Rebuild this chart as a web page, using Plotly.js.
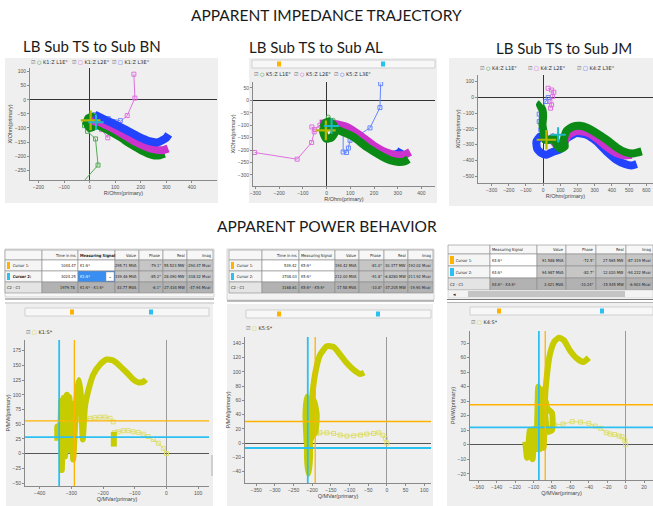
<!DOCTYPE html>
<html><head><meta charset="utf-8">
<script src="https://cdn.plot.ly/plotly-3.0.1.min.js"></script>
<style>html,body{margin:0;padding:0;background:#fff}#chart{width:653px;height:506px}</style>
</head><body><div id="chart"></div>
<script>
// ---------- Apparent impedance trajectories (R, X in ohm primary) ----------
// LB Sub TS -> Sub BN, relay K1
const bnL1R = [-15,-5,10,25,15,0,-10,5,27,55,87,120,153,180,207,230,253,275,293];
const bnL1X = [-90,-65,-60,-75,-95,-100,-85,-75,-88,-100,-115,-133,-153,-168,-182,-192,-198,-197,-192];
const bnL2R = [5,20,27,55,87,120,153,180,207,230,253,287,307];
const bnL2X = [-70,-78,-76,-86,-100,-117,-135,-150,-162,-170,-176,-179,-173];
const bnL3R = [20,47,87,140,193,233,267,300,309];
const bnL3X = [-53,-65,-82,-106,-132,-147,-151,-135,-123];
const bnL1tR = [5,-20,-8,23,33,-33];
const bnL1tX = [-90,-92,-112,-139,-232,-300];
const bnL2tR = [30,47,71,73,100,147,177,173];
const bnL2tX = [-85,-106,-135,-106,-94,-56,6,91];
const bnL3tR = [15,20,40,73,120];
const bnL3tX = [-60,-53,-65,-67,-74];

// LB Sub TS -> Sub AL, relay K5
const alL1R = [-15,-5,10,30,35,20,0,-10,-15,5,25,42,113,169,225,268,303,331,345];
const alL1X = [-110,-90,-85,-100,-130,-150,-155,-140,-120,-105,-110,-117,-147,-188,-221,-241,-248,-245,-237];
const alL2R = [-28,0,28,85,141,197,253,296,331,352];
const alL2X = [-94,-92,-94,-107,-141,-181,-210,-221,-218,-208];
const alL3R = [28,85,141,197,253,289,310,317];
const alL3X = [-100,-117,-154,-194,-218,-218,-208,-198];
const alL1tR = [7,28,20];
const alL1tX = [-67,-80,-95];
const alL2tR = [-28,-49,-62,-52,-63,-124,-303];
const alL2tX = [-100,-117,-107,-127,-170,-237,-210];
const alL3tR = [35,70,70,84,92,99,183,225,228];
const alL3tX = [-100,-131,-208,-210,-192,-161,-111,-29,67];

// LB Sub TS -> Sub JM, relay K4
const jmL1R = [-10,-19,-4,0,-4,4,10,39,68,78,101,126,120,136,175,214,262,311,369,427,476,524,573];
const jmL1X = [-38,-48,-80,-122,-175,-227,-269,-269,-259,-301,-326,-312,-269,-213,-185,-181,-196,-227,-269,-318,-347,-356,-343];
const jmL2R = [39,68,97,120,146,194,252,311,369,427,476,515];
const jmL2X = [-238,-290,-312,-290,-238,-213,-221,-259,-312,-354,-368,-364];
const jmL3R = [-10,-19,-39,-35,-10,19,58,97,136,194,252,311,369,427,476,515,544];
const jmL3X = [-248,-250,-280,-326,-354,-364,-345,-330,-262,-227,-238,-280,-343,-396,-423,-432,-423];
const jmL2tR = [29,49,62,54,39,49,43];
const jmL2tX = [57,46,32,4,-27,-48,-69];
const jmL3tR = [29,16,-10,-23,-23,-14,-10];
const jmL3tX = [-2,-27,-69,-107,-154,-206,-248];

// cursor crosses on the impedance plots [R, X]
const bnCur = {r:[4,25], x:[-73,-80]};
const alCur = {r:[-3,21], x:[-121,-103]};
const jmCur = {r:[19,87], x:[-269,-238]};

// ---------- Apparent power behaviour (Q in Mvar, P in MW) ----------
const bnThinQ = [0,-10,-26,-42,-58,-73,-89,-105,-121,-136,-152,-163];
const bnThinP = [0,9,17.6,24,29,33,36,37,39,39,37,36];
const bnUpQ = [-168,-178,-194,-210,-226,-241,-257,-273];
const bnUpP = [54,60,62,62,61,60,58,57];
const bnThickQ = [-344,-344,-336,-332,-330,-324,-320,-314,-310,-306,-302,-298,-294,-288,-282,-276,-270,-264,-257,-246,-231,-210,-189,-168,-147,-126,-105,-89,-73,-65,null,-166,-166];
const bnThickP = [22,46,30,90,-28,95,-5,100,10,96,5,85,-10,50,105,125,100,24,80,108,134,151,160,158,149,138,126,121,122,126,null,12,37];

const alThinQ = [0,-4,-11,-22,-36,-54,-71,-89,-107,-125,-143,-161,-179,-188];
const alThinP = [0,6.6,11,14.5,13.6,12.7,11.3,10.3,9.9,11.3,13.6,14.5,14.5,13.6];
const alThickQ = [-215,-218,-214,-208,-206,-210,-214,-212,-205,-196,-188,-192,-200,-205,-204,-201,-192,-179,-161,-143,-125,-107,-89,-71,-61];
const alThickP = [0,40,65,40,-20,-43,-20,30,58,60,40,15,10,4,28,60,98,124,136,135,124,112,103,97,99];

const jmThinQ = [0,-1,-4,-7,-12,-17,-21,-27,-33,-40,-49,-58,-68,-77,-82];
const jmThinP = [0,3.2,5.5,6,7,7.4,8.3,11.3,12.9,14.7,15.6,15.9,14.3,13.6,14.3];
const jmThickQ = [-109,-107,-104,-101,-99,-97,-95,-93,-91,-89,-87,-85,-80,-80,-85,-87.7,-86,-82,-77.5,-72.5,-67,-60.5,-53,-46,-40];
const jmThickP = [2,-9,10,-10,11,-3,40,-3,38,-2,30,25,22,10,9,26,44.6,63,71,73.8,72,65,59.5,57,60];

// cursor readouts [cursor 1, cursor 2]
const bnCurReal = [55.523, 28.090], bnCurImag = [-290.37, -338.32];
const alCurReal = [30.377, -6.828], alCurImag = [-192.02, -211.92];
const jmCurReal = [27.565, 12.020], jmCurImag = [-87.319, -94.222];

const bnTimes = ['1044.47', '3024.25', '1979.78'];
const bnSignals = ['K1:S*', 'K1:S*', 'K1:S* - K1:S*'];
const bnValues = ['295.71 MVA', '339.46 MVA', '43.77 MVA'];
const bnPhases = ['-79.1°', '-85.2°', '-6.1°'];
const bnReals = ['55.523 MW', '28.090 MW', '-27.434 MW'];
const bnImags = ['-290.37 Mvar', '-338.32 Mvar', '-47.94 Mvar'];

const alTimes = ['539.42', '3708.03', '3168.61'];
const alSignals = ['K5:S*', 'K5:S*', 'K5:S* - K5:S*'];
const alValues = ['194.42 MVA', '212.00 MVA', '17.58 MVA'];
const alPhases = ['-81.0°', '-91.8°', '-10.8°'];
const alReals = ['30.377 MW', '-6.8280 MW', '-37.205 MW'];
const alImags = ['-192.02 Mvar', '-211.92 Mvar', '-19.90 Mvar'];

const jmSignals = ['K4:S*', 'K4:S*', 'K4:S* - K4:S*'];
const jmValues = ['91.588 MVA', '94.987 MVA', '3.421 MVA'];
const jmPhases = ['-72.5°', '-82.7°', '-10.24°'];
const jmReals = ['27.565 MW', '12.020 MW', '-15.545 MW'];
const jmImags = ['-87.319 Mvar', '-94.222 Mvar', '-6.903 Mvar'];

// ---------- helpers ----------
const W = 653, H = 506;
const fx = p => p / W;
const fy = p => 1 - p / H;
const FONT = 'Liberation Sans, Arial, sans-serif';
const NARROW = 'Liberation Sans Narrow, DejaVu Sans Condensed, Liberation Sans, sans-serif';
const GREEN = '#0b8a16', MAG = '#cc33cc', BLUE = '#2244ff';
const YEL = '#c6cc00', YEL_T = '#dede70';
const ORANGE = '#ffb300', CYAN = '#2cc0f2';

const traces = [];
const shapes = [];
const annotations = [];

function thick(xs, ys, color, ax, w) {
  traces.push({type:'scatter', mode:'lines', x:xs, y:ys, xaxis:'x'+ax, yaxis:'y'+ax,
    line:{color:color, width:w, shape:'spline', smoothing:0.5}, connectgaps:false, hoverinfo:'skip'});
}
function thin(xs, ys, color, ax, sym) {
  traces.push({type:'scatter', mode:'lines+markers', x:xs, y:ys, xaxis:'x'+ax, yaxis:'y'+ax,
    line:{color:color, width:1},
    marker:{symbol:sym, size:4, color:color, line:{width:1, color:color}}, hoverinfo:'skip'});
}
function crosses(c, ax) {
  traces.push({type:'scatter', mode:'markers', x:[c.r[0]], y:[c.x[0]], xaxis:'x'+ax, yaxis:'y'+ax,
    marker:{symbol:'cross-thin', size:14, line:{width:2.2, color:'#b5b800'}}, hoverinfo:'skip'});
  traces.push({type:'scatter', mode:'markers', x:[c.r[1]], y:[c.x[1]], xaxis:'x'+ax, yaxis:'y'+ax,
    marker:{symbol:'cross-thin', size:11, line:{width:2, color:'#20b8c8'}}, hoverinfo:'skip'});
}
function rectPx(x0, y0, x1, y1, fill, line, lw) {
  shapes.push({type:'rect', xref:'paper', yref:'paper', x0:fx(x0), x1:fx(x1), y0:fy(y1), y1:fy(y0),
    fillcolor:fill, line:{color:line || fill, width:lw === undefined ? 0 : lw}, layer:'below'});
}
function linePx(x0, y0, x1, y1, color, w) {
  shapes.push({type:'line', xref:'paper', yref:'paper', x0:fx(x0), x1:fx(x1), y0:fy(y0), y1:fy(y1),
    line:{color:color, width:w}, layer:'below'});
}
function text(x, y, t, size, opts) {
  annotations.push(Object.assign({xref:'paper', yref:'paper', x:fx(x), y:fy(y), text:t, showarrow:false,
    xanchor:'center', yanchor:'middle', borderpad:0, font:{size:size, family:FONT, color:'#333'}}, opts || {}));
}
function legendItem(x, y, color, sym, label) {
  text(x, y, "<span style='color:#6a6a6a'>☑</span> <span style='color:" + color + "'>" + sym + "</span> " + label,
       5, {xanchor:'left', font:{size:5, family:'DejaVu Sans, sans-serif', color:'#333'}});
}
function cursorLines(ax, qs, ps) {
  const cols = [ORANGE, CYAN], widths = [1.3, 1.8];
  [1, 0].forEach(i => {
    shapes.push({type:'line', xref:'x'+ax, yref:'y'+ax+' domain', x0:qs[i], x1:qs[i], y0:0, y1:1,
      line:{color:cols[i], width:widths[i]}, layer:'above'});
    shapes.push({type:'line', xref:'x'+ax+' domain', yref:'y'+ax, x0:0, x1:1, y0:ps[i], y1:ps[i],
      line:{color:cols[i], width:widths[i]}, layer:'above'});
  });
}
function slider(x0, x1, y, marks) {
  rectPx(x0, y - 4, x1, y + 4, '#f7f7f7', '#c8c8c8', 0.8);
  marks.forEach(m => rectPx(m[0] - 2, y - 2.5, m[0] + 2, y + 2.5, m[1], m[1], 0));
}
function table(x0, y0, widths, heights, rows, fills, aligns, fontColors) {
  let y = y0;
  rows.forEach((row, r) => {
    let x = x0;
    row.forEach((t, c) => {
      const w = widths[c], h = heights[r];
      rectPx(x, y, x + w, y + h, fills[r][c], '#8c8c8c', 0.6);
      if (t) {
        const al = aligns[c];
        text(al === 'right' ? x + w - 1 : x + 1.2, y + h / 2, t, 4,
          {xanchor: al, font:{size:4, family:NARROW, color:(fontColors && fontColors[r][c]) || '#222'}});
      }
      x += w;
    });
    y += heights[r];
  });
}

// ---------- panel backgrounds ----------
rectPx(5, 58, 218, 203, '#efefef');
rectPx(249, 58, 437, 203, '#efefef');
rectPx(449, 58, 653, 206, '#efefef');
rectPx(5, 249, 214, 297, '#f7f7f7', '#bdbdbd', 0.6);
rectPx(227, 249, 434, 300, '#f3f3f3', '#bdbdbd', 0.6);
rectPx(6, 304, 213, 506, '#efefef');
rectPx(227, 304, 433, 506, '#efefef');
rectPx(447, 303, 653, 506, '#efefef');
linePx(5, 299, 214, 299, '#7a7a7a', 1);
linePx(5, 303, 214, 303, '#b5b5b5', 1);
linePx(227, 301, 434, 301, '#7a7a7a', 1);
linePx(447, 299.5, 653, 299.5, '#7a7a7a', 1);
linePx(447, 302.5, 653, 302.5, '#b5b5b5', 1);

// ---------- tables ----------
const hdr = ['', 'Time in ms', 'Measuring Signal', 'Value', 'Phase', 'Real', 'Imag'];
const lab1 = 'Cursor 1:', lab2 = 'Cursor 2:', lab3 = 'C2 - C1';
const G1 = '#c6c6c6', G2 = '#b2b2b2', LT = '#f5f5f5', WH = '#ffffff', HD = '#f7f7f7';

function bodyRows(times, sigs, vals, phs, res, ims, bold2) {
  const rows = [];
  for (let i = 0; i < 3; i++) {
    const lab = [lab1, bold2 ? '<b>' + lab2 + '</b>' : lab2, lab3][i];
    const r = [i < 2 ? '     ' + lab : lab];
    if (times) r.push(times[i]);
    r.push(sigs[i], vals[i], phs[i], res[i], ims[i]);
    rows.push(r);
  }
  return rows;
}
// BN table
{
  const rows = [['', 'Time in ms', '<b>Measuring Signal</b>', 'Value', 'Phase', 'Real', 'Imag']]
    .concat(bodyRows(bnTimes, bnSignals, bnValues, bnPhases, bnReals, bnImags, true));
  const fills = [[HD,HD,HD,HD,HD,HD,HD],[LT,WH,WH,G1,G1,G1,G1],[LT,WH,'#3a8ef2',G1,G1,G1,G1],['#e4e4e4',G2,G2,G2,G2,G2,G2]];
  const fc = [[],[],[null,null,'#ffffff'],[]];
  table(5, 250, [37,36,37,24,24,24,26], [10,11,11,11], rows, fills,
        ['left','right','left','right','right','right','right'], fc);
  rectPx(7, 262, 10, 269, ORANGE); rectPx(7, 273, 10, 280, CYAN);
  rectPx(106, 272, 114, 281, '#ffffff', '#8c8c8c', 0.4);
  text(110, 276, '⌄', 4.5);
}
// AL table
{
  const rows = [hdr].concat(bodyRows(alTimes, alSignals, alValues, alPhases, alReals, alImags, false));
  const fills = [[HD,HD,HD,HD,HD,HD,HD],[LT,WH,WH,G1,G1,G1,G1],[LT,WH,WH,G1,G1,G1,G1],['#e4e4e4',G2,G2,G2,G2,G2,G2]];
  table(229, 250, [33,37,36,24,25,24,25], [10,11,11,11], rows, fills,
        ['left','right','left','right','right','right','right']);
  rectPx(231, 262, 234, 269, ORANGE); rectPx(231, 273, 234, 280, CYAN);
}
// JM table
{
  const rows = [['', 'Measuring Signal', 'Value', 'Phase', 'Real', 'Imag']]
    .concat(bodyRows(null, jmSignals, jmValues, jmPhases, jmReals, jmImags, false));
  const fills = [[HD,HD,HD,HD,HD,HD],[LT,WH,G1,G1,G1,G1],[LT,WH,G1,G1,G1,G1],['#e4e4e4',G2,G2,G2,G2,G2]];
  table(448, 245, [42,47,29,30,30,27], [9,12,12,12], rows, fills,
        ['left','left','right','right','right','right']);
  rectPx(450, 256, 454, 264, ORANGE); rectPx(450, 268, 454, 276, CYAN);
  rectPx(448, 290, 653, 298, '#f3f3f3', '#bdbdbd', 0.5);
  rectPx(468, 291, 625, 297, '#c4c4c4');
  text(451, 294, '◄', 4.5, {xanchor:'left'});
}

// ---------- sliders and legends ----------
slider(252, 435, 64, [[279, ORANGE], [383, CYAN]]);
slider(25, 209, 312, [[72, ORANGE], [151, CYAN]]);
slider(246, 431, 314, [[279, ORANGE], [378, CYAN]]);
slider(470, 653, 311, [[499, ORANGE], [602, CYAN]]);
rectPx(211, 455, 213, 476, '#cfcfcf');

legendItem(30, 62, GREEN, '○', 'K1:Z L1E°');
legendItem(71, 62, MAG, '□', 'K1:Z L2E°');
legendItem(111, 62, BLUE, '□', 'K1:Z L3E°');
legendItem(253, 74, GREEN, '○', 'K5:Z L1E°');
legendItem(293, 74, MAG, '○', 'K5:Z L2E°');
legendItem(333, 74, BLUE, '○', 'K5:Z L3E°');
legendItem(479, 68, GREEN, '○', 'K4:Z L1E°');
legendItem(527, 68, MAG, '□', 'K4:Z L2E°');
legendItem(576, 68, BLUE, '□', 'K4:Z L3E°');
legendItem(25, 332, YEL, '□', 'K1:S*');
legendItem(245, 328, YEL, '□', 'K5:S*');
legendItem(470, 322, YEL, '□', 'K4:S*');

// ---------- titles ----------
const TF = 'Lato, Open Sans, sans-serif';
text(327, 15, 'APPARENT IMPEDANCE TRAJECTORY', 15.5, {font:{size:15.5, family:TF, color:'#1a1a1a'}});
text(92, 46, 'LB Sub TS to Sub BN', 15, {font:{size:15, family:TF, color:'#1a1a1a'}});
text(316, 47, 'LB Sub TS to Sub AL', 15, {font:{size:15, family:TF, color:'#1a1a1a'}});
text(564, 48, 'LB Sub TS to Sub JM', 15, {font:{size:15, family:TF, color:'#1a1a1a'}});
text(327, 226, 'APPARENT POWER BEHAVIOR', 15.5, {font:{size:15.5, family:TF, color:'#1a1a1a'}});

// ---------- traces ----------
thin(bnL1tR, bnL1tX, '#55aa55', 1, 'square-open');
thin(bnL2tR, bnL2tX, '#e070e0', 1, 'square-open');
thin(bnL3tR, bnL3tX, '#6688ff', 1, 'square-open');
thick(bnL1R, bnL1X, GREEN, 1, 8);
thick(bnL2R, bnL2X, MAG, 1, 8);
thick(bnL3R, bnL3X, BLUE, 1, 8);
crosses(bnCur, 1);

thin(alL2tR, alL2tX, '#e070e0', 2, 'square-open');
thin(alL3tR, alL3tX, '#6688ff', 2, 'square-open');
thin(alL1tR, alL1tX, '#55aa55', 2, 'circle-open');
thick(alL3R, alL3X, BLUE, 2, 8);
thick(alL2R, alL2X, MAG, 2, 8);
thick(alL1R, alL1X, GREEN, 2, 8);
crosses(alCur, 2);

thin(jmL2tR, jmL2tX, '#e070e0', 3, 'square-open');
thin(jmL3tR, jmL3tX, '#6688ff', 3, 'square-open');
thick(jmL3R, jmL3X, BLUE, 3, 8);
thick(jmL2R, jmL2X, MAG, 3, 8);
thick(jmL1R, jmL1X, GREEN, 3, 8);
crosses(jmCur, 3);

thin(bnThinQ, bnThinP, YEL_T, 4, 'square-open');
thin(bnUpQ, bnUpP, YEL_T, 4, 'square-open');
thick(bnThickQ, bnThickP, YEL, 4, 6);
thin(alThinQ, alThinP, YEL_T, 5, 'square-open');
thick(alThickQ, alThickP, YEL, 5, 6);
thin(jmThinQ, jmThinP, YEL_T, 6, 'square-open');
thick(jmThickQ, jmThickP, YEL, 6, 6);

cursorLines(4, bnCurImag, bnCurReal);
cursorLines(5, alCurImag, alCurReal);
cursorLines(6, jmCurImag, jmCurReal);

// ---------- axes ----------
function axis(dom, range, dtick, title, zc, anchor) {
  return {domain:dom, range:range, dtick:dtick, anchor:anchor, showgrid:false,
    zeroline:true, zerolinecolor:zc, zerolinewidth:1,
    showline:true, linecolor:'#8a8a8a', linewidth:1, ticks:'outside', ticklen:2, tickcolor:'#8a8a8a',
    tickfont:{size:5, family:FONT, color:'#555'},
    title:{text:title, font:{size:5.5, family:FONT, color:'#444'}, standoff:1},
    fixedrange:true};
}
const boxes = [
  {x:[30,217], y:[68,180], xr:[-233,498], yr:[-285,113], dx:100, dy:50, xt:'R/Ohm(primary)', yt:'X/Ohm(primary)', zx:'#333', zy:'#333'},
  {x:[253,435], y:[82,186], xr:[-310,457], yr:[-345,74], dx:100, dy:50, xt:'R/Ohm(primary)', yt:'X/Ohm(primary)', zx:'#333', zy:'#333'},
  {x:[478,653], y:[75,183], xr:[-379,639], yr:[-543,141], dx:100, dy:100, xt:'R/Ohm(primary)', yt:'X/Ohm(primary)', zx:'#333', zy:'#333'},
  {x:[25,209], y:[340,486], xr:[-446,134], yr:[-55,193], dx:100, dy:25, xt:'Q/MVar(primary)', yt:'P/MW(primary)', zx:'#9a9a9a', zy:'#555'},
  {x:[245,431], y:[337,483], xr:[-380,118], yr:[-56,149], dx:50, dy:20, xt:'Q/MVar(primary)', yt:'P/MW(primary)', zx:'#9a9a9a', zy:'#555'},
  {x:[470,653], y:[331,480], xr:[-169,29.7], yr:[-24.3,78.4], dx:20, dy:10, xt:'Q/MVar(primary)', yt:'P/MW(primary)', zx:'#9a9a9a', zy:'#555'}
];
const layout = {
  width:W, height:H, margin:{l:0, r:0, t:0, b:0},
  paper_bgcolor:'#ffffff', plot_bgcolor:'#ffffff', showlegend:false,
  font:{family:FONT}, shapes:shapes, annotations:annotations
};
boxes.forEach((b, i) => {
  const n = i === 0 ? '' : String(i + 1);
  layout['xaxis' + n] = axis([fx(b.x[0]), fx(b.x[1])], b.xr, b.dx, b.xt, b.zx, 'y' + n);
  layout['yaxis' + n] = axis([fy(b.y[1]), fy(b.y[0])], b.yr, b.dy, b.yt, b.zy, 'x' + n);
});

Plotly.newPlot('chart', traces, layout, {staticPlot:true, displayModeBar:false});
</script>
</body></html>
